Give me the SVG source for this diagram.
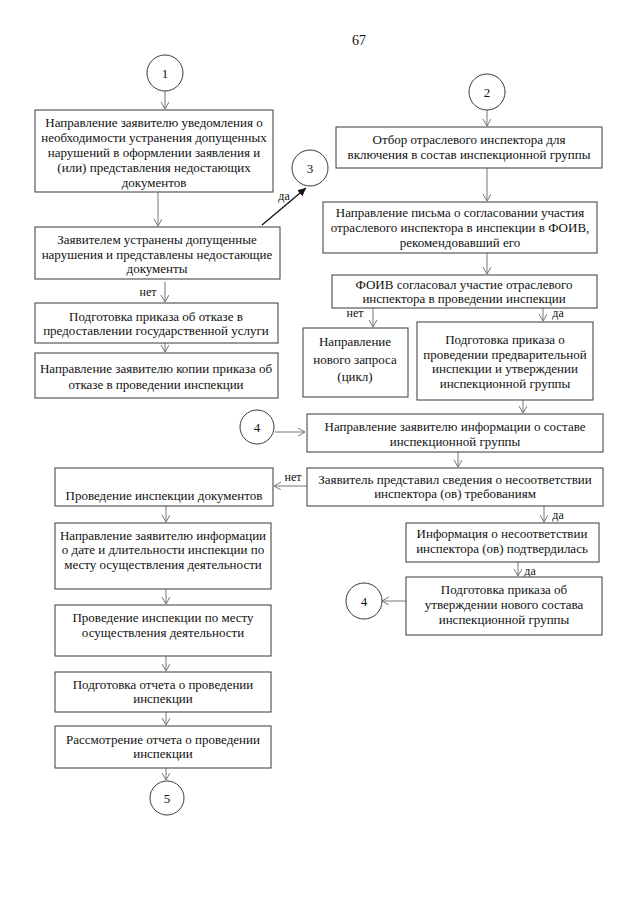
<svg xmlns="http://www.w3.org/2000/svg" width="640" height="905" viewBox="0 0 640 905">
<style>
  text { font-family: "Liberation Serif", "Times New Roman", serif; font-size: 13px; fill: #111111; text-anchor: middle; }
  .box { fill: #ffffff; stroke: #4a4a4a; stroke-width: 1.1; }
  .circ { fill: #ffffff; stroke: #3a3a3a; stroke-width: 1; }
  .arr { fill: none; stroke: #777; stroke-width: 1; marker-end: url(#open); }
  .lbl { font-size: 12px; }
  .num { font-size: 14px; }
</style>
<defs>
  <marker id="open" markerUnits="userSpaceOnUse" markerWidth="10" markerHeight="10" refX="7" refY="4" orient="auto">
    <path d="M0,0 L7,4 L0,8" fill="none" stroke="#777" stroke-width="1"/>
  </marker>
  <marker id="solid" markerUnits="userSpaceOnUse" markerWidth="10" markerHeight="10" refX="8" refY="4" orient="auto">
    <path d="M0,0 L8,4 L0,8 Z" fill="#111"/>
  </marker>
</defs>
<rect width="640" height="905" fill="#ffffff"/>
<text x="359" y="45" class="num">67</text>

<g id="connectors">
  <line class="arr" x1="165" y1="91" x2="165" y2="109"/>
  <line class="arr" x1="158" y1="192" x2="158" y2="226"/>
  <line x1="262" y1="225" x2="306" y2="188" stroke="#111" stroke-width="1.3" marker-end="url(#solid)"/>
  <text x="284" y="200" class="lbl">да</text>
  <line class="arr" x1="165" y1="282" x2="165" y2="302"/>
  <text x="148" y="296" class="lbl">нет</text>
  <line class="arr" x1="165" y1="343" x2="165" y2="352"/>

  <line class="arr" x1="487" y1="110" x2="487" y2="126"/>
  <line class="arr" x1="487" y1="168" x2="487" y2="201"/>
  <line class="arr" x1="487" y1="253" x2="487" y2="274"/>
  <line class="arr" x1="373" y1="308" x2="373" y2="327"/>
  <text x="355" y="317" class="lbl">нет</text>
  <line class="arr" x1="543" y1="308" x2="543" y2="321"/>
  <text x="558" y="317" class="lbl">да</text>
  <line class="arr" x1="523" y1="400" x2="523" y2="413"/>

  <line class="arr" x1="275" y1="432" x2="305" y2="432"/>
  <line class="arr" x1="458" y1="452" x2="458" y2="467"/>
  <line class="arr" x1="307" y1="486" x2="274" y2="486"/>
  <text x="293" y="481" class="lbl">нет</text>
  <line class="arr" x1="544" y1="506" x2="544" y2="522"/>
  <text x="558" y="519" class="lbl">да</text>
  <line class="arr" x1="518" y1="562" x2="518" y2="576"/>
  <text x="530" y="575" class="lbl">да</text>
  <line class="arr" x1="406" y1="601" x2="382" y2="601"/>

  <line class="arr" x1="166" y1="506" x2="166" y2="522"/>
  <line class="arr" x1="166" y1="589" x2="166" y2="604"/>
  <line class="arr" x1="166" y1="656" x2="166" y2="671"/>
  <line class="arr" x1="166" y1="712" x2="166" y2="725"/>
  <line class="arr" x1="166" y1="768" x2="166" y2="780"/>
</g>

<g id="c1"><circle class="circ" cx="165" cy="73" r="18"/><text x="165" y="78">1</text></g>
<g id="c2"><circle class="circ" cx="487" cy="92" r="18"/><text x="487" y="97">2</text></g>
<g id="c3"><circle class="circ" cx="310" cy="168" r="18"/><text x="310" y="173">3</text></g>
<g id="c4a"><circle class="circ" cx="257" cy="427" r="17"/><text x="257" y="432">4</text></g>
<g id="c4b"><circle class="circ" cx="364" cy="601" r="18"/><text x="364" y="606">4</text></g>
<g id="c5"><circle class="circ" cx="167" cy="798" r="17"/><text x="167" y="803">5</text></g>

<g id="boxA">
  <rect class="box" x="35" y="110" width="238" height="82"/>
  <text x="154" y="127">Направление заявителю уведомления о</text>
  <text x="154" y="142">необходимости устранения допущенных</text>
  <text x="154" y="157">нарушений в оформлении заявления и</text>
  <text x="154" y="172">(или) представления недостающих</text>
  <text x="154" y="187">документов</text>
</g>
<g id="boxB">
  <rect class="box" x="35" y="227" width="245" height="52"/>
  <text x="157" y="244">Заявителем устранены допущенные</text>
  <text x="157" y="259">нарушения и представлены недостающие</text>
  <text x="157" y="273">документы</text>
</g>
<g id="boxC">
  <rect class="box" x="35" y="303" width="243" height="40"/>
  <text x="156" y="321">Подготовка приказа об отказе в</text>
  <text x="156" y="335">предоставлении государственной услуги</text>
</g>
<g id="boxD">
  <rect class="box" x="35" y="353" width="243" height="45"/>
  <text x="156" y="373">Направление заявителю копии приказа об</text>
  <text x="156" y="389">отказе в проведении инспекции</text>
</g>

<g id="boxE">
  <rect class="box" x="336" y="127" width="266" height="41"/>
  <text x="469" y="144">Отбор отраслевого инспектора для</text>
  <text x="469" y="159">включения в состав инспекционной группы</text>
</g>
<g id="boxF">
  <rect class="box" x="323" y="202" width="274" height="51"/>
  <text x="460" y="217">Направление письма о согласовании участия</text>
  <text x="460" y="232">отраслевого инспектора в инспекции в ФОИВ,</text>
  <text x="460" y="247">рекомендовавший его</text>
</g>
<g id="boxG">
  <rect class="box" x="332" y="275" width="265" height="33"/>
  <text x="464" y="289">ФОИВ согласовал участие отраслевого</text>
  <text x="464" y="303">инспектора в проведении инспекции</text>
</g>
<g id="boxH">
  <rect class="box" x="303" y="328" width="105" height="69"/>
  <text x="355" y="346">Направление</text>
  <text x="355" y="364">нового запроса</text>
  <text x="355" y="381">(цикл)</text>
</g>
<g id="boxI">
  <rect class="box" x="417" y="322" width="176" height="78"/>
  <text x="505" y="344">Подготовка приказа о</text>
  <text x="505" y="359">проведении предварительной</text>
  <text x="505" y="373">инспекции и утверждении</text>
  <text x="505" y="388">инспекционной группы</text>
</g>
<g id="boxJ">
  <rect class="box" x="307" y="414" width="296" height="38"/>
  <text x="455" y="431">Направление заявителю информации о составе</text>
  <text x="455" y="446">инспекционной группы</text>
</g>
<g id="boxK">
  <rect class="box" x="307" y="468" width="296" height="38"/>
  <text x="455" y="484">Заявитель представил сведения о несоответствии</text>
  <text x="455" y="498">инспектора (ов) требованиям</text>
</g>
<g id="boxL">
  <rect class="box" x="55" y="468" width="218" height="38"/>
  <text x="164" y="500">Проведение инспекции документов</text>
</g>
<g id="boxM">
  <rect class="box" x="406" y="523" width="193" height="39"/>
  <text x="502" y="538">Информация о несоответствии</text>
  <text x="502" y="553">инспектора (ов) подтвердилась</text>
</g>
<g id="boxN">
  <rect class="box" x="406" y="577" width="196" height="58"/>
  <text x="504" y="594">Подготовка приказа об</text>
  <text x="504" y="609">утверждении нового состава</text>
  <text x="504" y="624">инспекционной группы</text>
</g>
<g id="boxO">
  <rect class="box" x="55" y="523" width="216" height="66"/>
  <text x="163" y="540">Направление заявителю информации</text>
  <text x="163" y="554">о дате и длительности инспекции по</text>
  <text x="163" y="569">месту осуществления деятельности</text>
</g>
<g id="boxP">
  <rect class="box" x="55" y="605" width="216" height="51"/>
  <text x="163" y="622">Проведение инспекции по месту</text>
  <text x="163" y="637">осуществления деятельности</text>
</g>
<g id="boxQ">
  <rect class="box" x="55" y="672" width="216" height="40"/>
  <text x="163" y="689">Подготовка отчета о проведении</text>
  <text x="163" y="703">инспекции</text>
</g>
<g id="boxR">
  <rect class="box" x="55" y="726" width="216" height="42"/>
  <text x="163" y="744">Рассмотрение отчета о проведении</text>
  <text x="163" y="758">инспекции</text>
</g>
</svg>
